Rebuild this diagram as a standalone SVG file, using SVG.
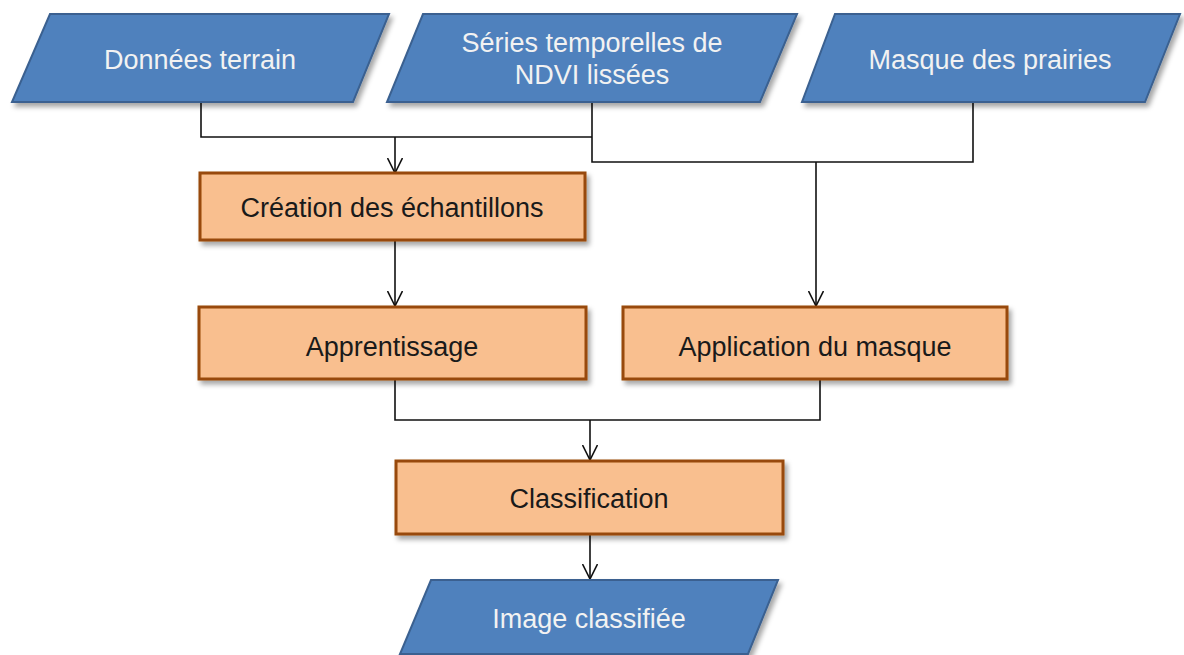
<svg xmlns="http://www.w3.org/2000/svg" width="1184" height="655" viewBox="0 0 1184 655">
<style>
.io{fill:#4F81BD;stroke:#3A6190;stroke-width:2;filter:url(#sh)}
.pr{fill:#F9BF8F;stroke:#984807;stroke-width:3;filter:url(#sh)}
.tw{font-family:"Liberation Sans",Arial,sans-serif;font-size:27px;fill:#F2F2F2;text-anchor:middle}
.tk{font-family:"Liberation Sans",Arial,sans-serif;font-size:27px;fill:#1A1A1A;text-anchor:middle}
.c{fill:none;stroke:#111;stroke-width:1.6}
</style>
<defs>
<filter id="sh" x="-10%" y="-20%" width="120%" height="150%">
<feDropShadow dx="3" dy="4" stdDeviation="2.5" flood-color="#000" flood-opacity="0.35"/>
</filter>
<marker id="ar" viewBox="0 0 16 16" refX="15" refY="8" markerWidth="16" markerHeight="16" markerUnits="userSpaceOnUse" orient="auto">
<path d="M0,0.5 L15,8 L0,15.5" fill="none" stroke="#111" stroke-width="1.6"/>
</marker>
</defs>
<g id="connectors">
<path class="c" d="M201,102 V137 H592"/>
<path class="c" d="M592,102 V162 H973 V102"/>
<path class="c" d="M395,137 V173" marker-end="url(#ar)"/>
<path class="c" d="M816,162 V306" marker-end="url(#ar)"/>
<path class="c" d="M395,240 V306" marker-end="url(#ar)"/>
<path class="c" d="M395,379 V420 H820 V379"/>
<path class="c" d="M590,420 V460" marker-end="url(#ar)"/>
<path class="c" d="M590,534 V579" marker-end="url(#ar)"/>
</g>
<g id="n-donnees">
<polygon class="io" points="50,14 389,14 353,102 12,102"/>
<text class="tw" x="200" y="69">Données terrain</text>
</g>
<g id="n-series">
<polygon class="io" points="423,14 797,14 760,102 387,102"/>
<text class="tw" x="592" y="52">Séries temporelles de</text>
<text class="tw" x="592" y="84">NDVI lissées</text>
</g>
<g id="n-masque">
<polygon class="io" points="835,14 1180,14 1145,102 802,102"/>
<text class="tw" x="990" y="69">Masque des prairies</text>
</g>
<g id="n-creation">
<rect class="pr" x="200" y="173" width="385" height="67"/>
<text class="tk" x="392" y="217">Création des échantillons</text>
</g>
<g id="n-apprentissage">
<rect class="pr" x="199" y="307" width="387" height="72"/>
<text class="tk" x="392" y="356">Apprentissage</text>
</g>
<g id="n-application">
<rect class="pr" x="623" y="307" width="384" height="72"/>
<text class="tk" x="815" y="356">Application du masque</text>
</g>
<g id="n-classification">
<rect class="pr" x="396" y="461" width="387" height="73"/>
<text class="tk" x="589" y="508">Classification</text>
</g>
<g id="n-image">
<polygon class="io" points="431,580 778,580 748,654 400,654"/>
<text class="tw" x="589" y="628">Image classifiée</text>
</g>
</svg>
